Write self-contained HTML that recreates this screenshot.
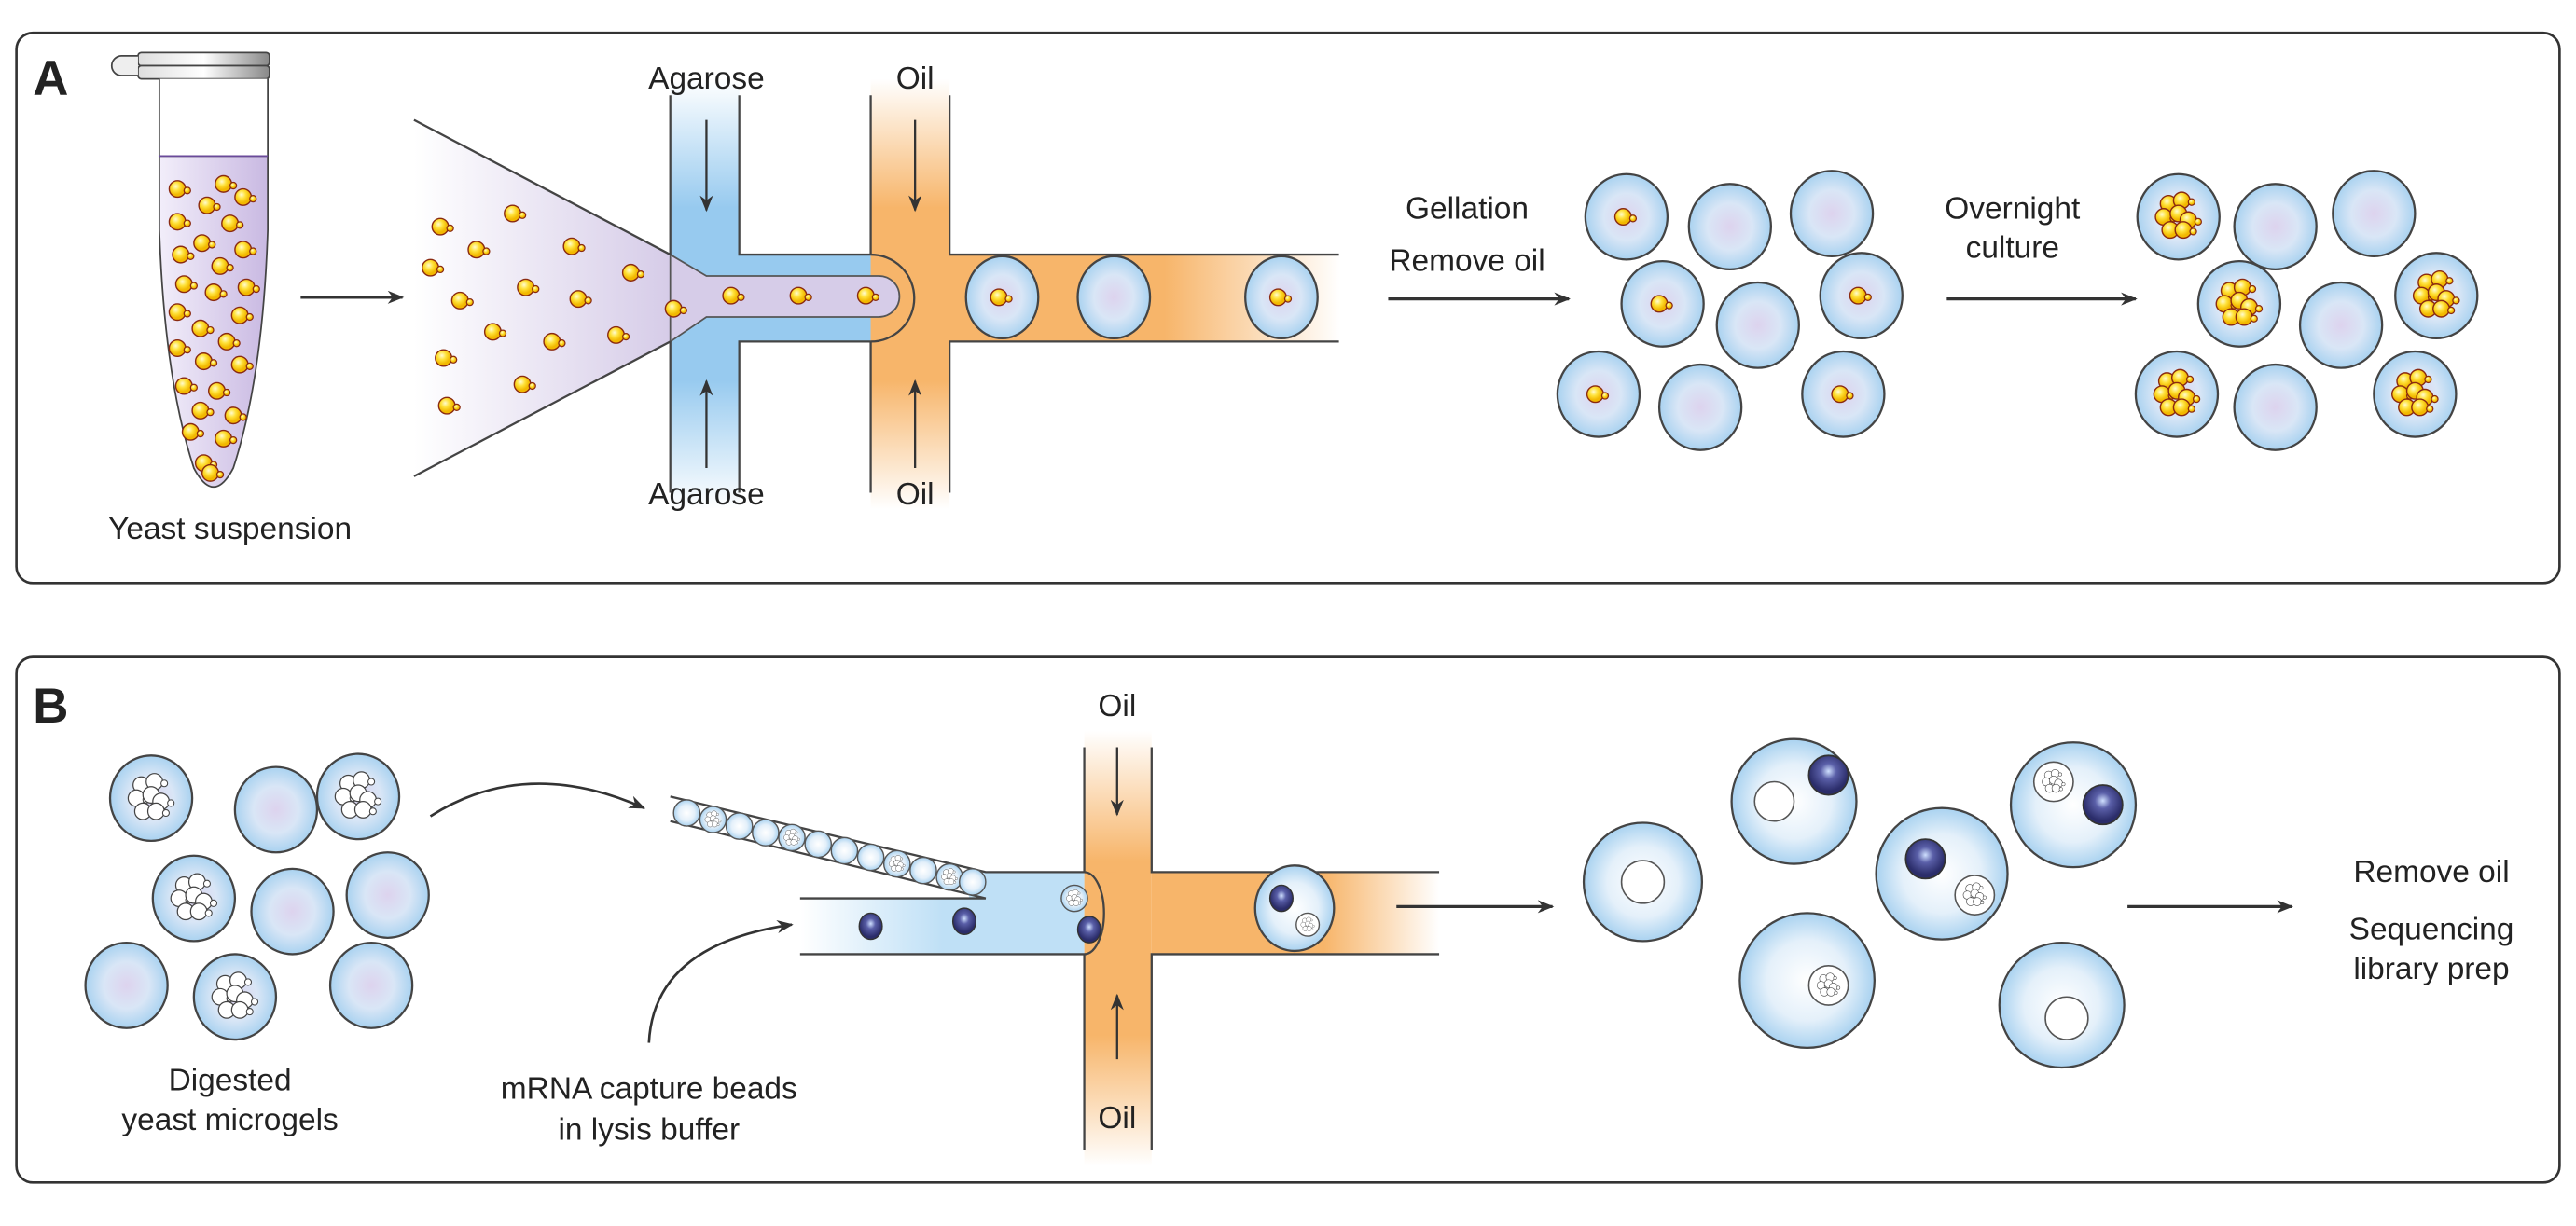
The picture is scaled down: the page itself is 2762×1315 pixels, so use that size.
<!DOCTYPE html>
<html><head><meta charset="utf-8"><style>html,body{margin:0;padding:0;background:#fff}svg{display:block}text{font-family:"Liberation Sans",sans-serif;fill:#222}</style></head><body>
<svg width="2762" height="1315" viewBox="0 0 1568 746.5" xmlns="http://www.w3.org/2000/svg">
<defs>
<radialGradient id="bead"><stop offset="0" stop-color="#ddd3ee"/><stop offset="0.55" stop-color="#d9e6f6"/><stop offset="1" stop-color="#a9d2f0"/></radialGradient>
<radialGradient id="beadW"><stop offset="0" stop-color="#fff"/><stop offset="0.6" stop-color="#e4f0fa"/><stop offset="1" stop-color="#a9d2f0"/></radialGradient>
<radialGradient id="dark" cx="0.5" cy="0.4"><stop offset="0" stop-color="#cfe0ff"/><stop offset="0.4" stop-color="#5a5fa8"/><stop offset="1" stop-color="#2b2d6a"/></radialGradient>
<radialGradient id="yel" cx="0.4" cy="0.35"><stop offset="0" stop-color="#fffbd0"/><stop offset="0.5" stop-color="#ffe23a"/><stop offset="1" stop-color="#f2b800"/></radialGradient>
<linearGradient id="blueV" x1="0" y1="0" x2="0" y2="1"><stop offset="0" stop-color="#fff"/><stop offset="0.3" stop-color="#97caef"/><stop offset="0.7" stop-color="#97caef"/><stop offset="1" stop-color="#fff"/></linearGradient>
<linearGradient id="orV" x1="0" y1="0" x2="0" y2="1"><stop offset="0" stop-color="#fff"/><stop offset="0.3" stop-color="#f7b56a"/><stop offset="0.7" stop-color="#f7b56a"/><stop offset="1" stop-color="#fff"/></linearGradient>
<linearGradient id="orH" x1="0" y1="0" x2="1" y2="0"><stop offset="0" stop-color="#f7b56a"/><stop offset="0.6" stop-color="#f7b56a"/><stop offset="1" stop-color="#fff"/></linearGradient>
<linearGradient id="purH" x1="0" y1="0" x2="1" y2="0"><stop offset="0" stop-color="#fff"/><stop offset="1" stop-color="#d6cce8"/></linearGradient>
<linearGradient id="blueH" x1="0" y1="0" x2="1" y2="0"><stop offset="0" stop-color="#fff"/><stop offset="0.5" stop-color="#bfe0f6"/><stop offset="1" stop-color="#bfe0f6"/></linearGradient>
<linearGradient id="tube" x1="0" y1="0" x2="1" y2="0"><stop offset="0" stop-color="#f2eefa"/><stop offset="1" stop-color="#c9b9e2"/></linearGradient>
<linearGradient id="cap" x1="0" y1="0" x2="1" y2="0"><stop offset="0" stop-color="#ddd"/><stop offset="0.5" stop-color="#fff"/><stop offset="1" stop-color="#888"/></linearGradient>
<g id="y"><circle cx="0" cy="0" r="5" fill="url(#yel)" stroke="#8a2a10" stroke-width="0.8"/><circle cx="6" cy="1" r="2" fill="url(#yel)" stroke="#8a2a10" stroke-width="0.7"/></g>
<g id="cl"><use href="#y" x="-6" y="-8"/><use href="#y" x="2" y="-10"/><use href="#y" x="-9" y="0"/><use href="#y" x="0" y="-2"/><use href="#y" x="6" y="2"/><use href="#y" x="-5" y="8"/><use href="#y" x="3" y="8"/></g>
<g id="wy"><circle r="5" fill="#fff" stroke="#444" stroke-width="0.7"/><circle cx="6" cy="1" r="2" fill="#fff" stroke="#444" stroke-width="0.6"/></g>
<g id="wcl"><use href="#wy" x="-6" y="-8"/><use href="#wy" x="2" y="-10"/><use href="#wy" x="-9" y="0"/><use href="#wy" x="0" y="-2"/><use href="#wy" x="6" y="2"/><use href="#wy" x="-5" y="8"/><use href="#wy" x="3" y="8"/></g>
<g id="b"><ellipse rx="25" ry="26" fill="url(#bead)" stroke="#444" stroke-width="1.3"/></g>
<marker id="ah" markerWidth="10" markerHeight="8" refX="9" refY="4" orient="auto" markerUnits="userSpaceOnUse"><path d="M0,0 L10,4 L0,8 L3,4z" fill="#333"/></marker>
</defs>
<rect x="10" y="20" width="1548" height="335" rx="10" fill="none" stroke="#333" stroke-width="1.5"/>
<text x="20" y="58" font-size="30" font-weight="bold" fill="#111">A</text>
<rect x="84" y="32" width="80" height="8" rx="2" fill="url(#cap)" stroke="#444"/>
<rect x="84" y="40" width="80" height="8" rx="2" fill="url(#cap)" stroke="#444"/>
<path d="M84,34 h-10 a5,5 0 0 0 0,12 h10" fill="#eee" stroke="#444"/>
<path d="M97,48 V95 H163 V48" fill="#fff" stroke="#444"/>
<path d="M97,95 L97,140 Q100,230 118,285 Q130,308 142,285 Q160,230 163,140 L163,95Z" fill="url(#tube)" stroke="#444"/>
<line x1="97" y1="95" x2="163" y2="95" stroke="#6a4a9a"/>
<g><use href="#y" x="108" y="115"/><use href="#y" x="136" y="112"/><use href="#y" x="126" y="125"/><use href="#y" x="148" y="120"/><use href="#y" x="108" y="135"/><use href="#y" x="140" y="136"/><use href="#y" x="123" y="148"/><use href="#y" x="110" y="155"/><use href="#y" x="148" y="152"/><use href="#y" x="134" y="162"/><use href="#y" x="112" y="173"/><use href="#y" x="130" y="178"/><use href="#y" x="150" y="175"/><use href="#y" x="108" y="190"/><use href="#y" x="146" y="192"/><use href="#y" x="122" y="200"/><use href="#y" x="138" y="208"/><use href="#y" x="108" y="212"/><use href="#y" x="124" y="220"/><use href="#y" x="146" y="222"/><use href="#y" x="112" y="235"/><use href="#y" x="132" y="238"/><use href="#y" x="122" y="250"/><use href="#y" x="142" y="253"/><use href="#y" x="116" y="263"/><use href="#y" x="136" y="267"/><use href="#y" x="124" y="282"/><use href="#y" x="128" y="288"/></g>
<text x="140" y="328" font-size="19" text-anchor="middle">Yeast suspension</text>
<line x1="183" y1="181" x2="245" y2="181" stroke="#333" stroke-width="1.8" marker-end="url(#ah)"/>
<rect x="408" y="48" width="42" height="262" fill="url(#blueV)"/>
<rect x="408" y="155" width="140" height="53" fill="#97caef"/>
<rect x="530" y="48" width="48" height="262" fill="url(#orV)"/>
<rect x="548" y="155" width="268" height="53" fill="url(#orH)"/>
<path d="M530,155 A26,26 0 0 1 530,208 H548 V155Z" fill="#f7b56a"/>
<path d="M252,73 L408,155 L408,208 L252,290Z" fill="url(#purH)"/>
<path d="M408,155 L430,168 H535 a12.5,12.5 0 0 1 0,25 H430 L408,208Z" fill="#d6cce8" stroke="#555" stroke-width="1"/>
<path d="M252,73 L408,155 M252,290 L408,208" stroke="#444" stroke-width="1.3" fill="none"/>
<path d="M408,58 V155 M450,58 V155 H530 M408,208 V300 M450,300 V208 H530 M530,58 V155 M578,58 V155 H815 M530,300 V208 M578,300 V208 H815" stroke="#444" stroke-width="1.3" fill="none"/>
<path d="M530,155 A26,26 0 0 1 530,208" stroke="#444" stroke-width="1.3" fill="none"/>
<use href="#y" x="268" y="138"/><use href="#y" x="312" y="130"/><use href="#y" x="262" y="163"/><use href="#y" x="290" y="152"/><use href="#y" x="348" y="150"/><use href="#y" x="384" y="166"/><use href="#y" x="280" y="183"/><use href="#y" x="320" y="175"/><use href="#y" x="352" y="182"/><use href="#y" x="410" y="188"/><use href="#y" x="300" y="202"/><use href="#y" x="336" y="208"/><use href="#y" x="375" y="204"/><use href="#y" x="270" y="218"/><use href="#y" x="318" y="234"/><use href="#y" x="272" y="247"/>
<use href="#y" x="445" y="180"/><use href="#y" x="486" y="180"/><use href="#y" x="527" y="180"/>
<ellipse cx="610" cy="181" rx="22" ry="25" fill="url(#bead)" stroke="#444" stroke-width="1.3"/><use href="#y" x="608" y="181"/>
<ellipse cx="678" cy="181" rx="22" ry="25" fill="url(#bead)" stroke="#444" stroke-width="1.3"/>
<ellipse cx="780" cy="181" rx="22" ry="25" fill="url(#bead)" stroke="#444" stroke-width="1.3"/><use href="#y" x="778" y="181"/>
<text x="430" y="54" font-size="19" text-anchor="middle">Agarose</text>
<text x="430" y="307" font-size="19" text-anchor="middle">Agarose</text>
<text x="557" y="54" font-size="19" text-anchor="middle">Oil</text>
<text x="557" y="307" font-size="19" text-anchor="middle">Oil</text>
<line x1="430" y1="73" x2="430" y2="128" stroke="#333" stroke-width="1.3" marker-end="url(#ah)"/>
<line x1="430" y1="285" x2="430" y2="232" stroke="#333" stroke-width="1.3" marker-end="url(#ah)"/>
<line x1="557" y1="73" x2="557" y2="128" stroke="#333" stroke-width="1.3" marker-end="url(#ah)"/>
<line x1="557" y1="285" x2="557" y2="232" stroke="#333" stroke-width="1.3" marker-end="url(#ah)"/>
<text x="893" y="133" font-size="19" text-anchor="middle">Gellation</text>
<text x="893" y="165" font-size="19" text-anchor="middle">Remove oil</text>
<line x1="845" y1="182" x2="955" y2="182" stroke="#333" stroke-width="1.8" marker-end="url(#ah)"/>
<use href="#b" x="990" y="132"/><use href="#y" x="988" y="132"/>
<use href="#b" x="1053" y="138"/><use href="#b" x="1115" y="130"/>
<use href="#b" x="1012" y="185"/><use href="#y" x="1010" y="185"/>
<use href="#b" x="1070" y="198"/>
<use href="#b" x="1133" y="180"/><use href="#y" x="1131" y="180"/>
<use href="#b" x="973" y="240"/><use href="#y" x="971" y="240"/>
<use href="#b" x="1035" y="248"/>
<use href="#b" x="1122" y="240"/><use href="#y" x="1120" y="240"/>
<text x="1225" y="133" font-size="19" text-anchor="middle">Overnight</text>
<text x="1225" y="157" font-size="19" text-anchor="middle">culture</text>
<line x1="1185" y1="182" x2="1300" y2="182" stroke="#333" stroke-width="1.8" marker-end="url(#ah)"/>
<use href="#b" x="1326" y="132"/><use href="#cl" x="1326" y="132"/>
<use href="#b" x="1385" y="138"/><use href="#b" x="1445" y="130"/>
<use href="#b" x="1363" y="185"/><use href="#cl" x="1363" y="185"/>
<use href="#b" x="1425" y="198"/>
<use href="#b" x="1483" y="180"/><use href="#cl" x="1483" y="180"/>
<use href="#b" x="1325" y="240"/><use href="#cl" x="1325" y="240"/>
<use href="#b" x="1385" y="248"/>
<use href="#b" x="1470" y="240"/><use href="#cl" x="1470" y="240"/>
<rect x="10" y="400" width="1548" height="320" rx="10" fill="none" stroke="#333" stroke-width="1.5"/>
<text x="20" y="440" font-size="30" font-weight="bold" fill="#111">B</text>
<use href="#b" x="92" y="486"/><use href="#wcl" x="92" y="486"/>
<use href="#b" x="168" y="493"/>
<use href="#b" x="218" y="485"/><use href="#wcl" x="218" y="485"/>
<use href="#b" x="118" y="547"/><use href="#wcl" x="118" y="547"/>
<use href="#b" x="178" y="555"/>
<use href="#b" x="236" y="545"/>
<use href="#b" x="77" y="600"/>
<use href="#b" x="143" y="607"/><use href="#wcl" x="143" y="607"/>
<use href="#b" x="226" y="600"/>
<text x="140" y="664" font-size="19" text-anchor="middle">Digested</text>
<text x="140" y="688" font-size="19" text-anchor="middle">yeast microgels</text>
<text x="395" y="669" font-size="19" text-anchor="middle">mRNA capture beads</text>
<text x="395" y="694" font-size="19" text-anchor="middle">in lysis buffer</text>
<path d="M262,497 Q320,460 392,492" stroke="#333" stroke-width="1.5" fill="none" marker-end="url(#ah)"/>
<path d="M395,635 Q398,575 482,563" stroke="#333" stroke-width="1.5" fill="none" marker-end="url(#ah)"/>
<rect x="660" y="445" width="41" height="265" fill="url(#orV)"/>
<rect x="701" y="531" width="175" height="50" fill="url(#orH)"/>
<path d="M487,547 H590 L588,531 H660 V581 H487Z" fill="url(#blueH)"/>
<path d="M660,531 a12,25 0 0 1 0,50 h20 v-50z" fill="#f7b56a"/>
<path d="M408,485 L600,531 H660 a12,25 0 0 1 0,50 H487 M487,547 H600 L408,500" stroke="#444" stroke-width="1.3" fill="none"/>
<path d="M660,455 V531 M701,455 V531 H876 M660,700 V581 M701,700 V581 H876" stroke="#444" stroke-width="1.3" fill="none"/>
<g fill="url(#beadW)" stroke="#555" stroke-width="0.8">
<circle cx="418" cy="495" r="8"/><circle cx="434" cy="499" r="8"/><circle cx="450" cy="503" r="8"/><circle cx="466" cy="507" r="8"/><circle cx="482" cy="510" r="8"/><circle cx="498" cy="514" r="8"/><circle cx="514" cy="518" r="8"/><circle cx="530" cy="522" r="8"/><circle cx="546" cy="526" r="8"/><circle cx="562" cy="530" r="8"/><circle cx="578" cy="534" r="8"/><circle cx="592" cy="537" r="8"/>
<circle cx="654" cy="547" r="8"/>
</g>
<g transform="translate(434,499) scale(0.35)"><use href="#wcl"/></g>
<g transform="translate(482,510) scale(0.35)"><use href="#wcl"/></g>
<g transform="translate(546,526) scale(0.35)"><use href="#wcl"/></g>
<g transform="translate(578,534) scale(0.35)"><use href="#wcl"/></g>
<g transform="translate(654,547) scale(0.35)"><use href="#wcl"/></g>
<ellipse cx="530" cy="564" rx="7" ry="8" fill="url(#dark)" stroke="#333" stroke-width="0.8"/>
<ellipse cx="587" cy="561" rx="7" ry="8" fill="url(#dark)" stroke="#333" stroke-width="0.8"/>
<ellipse cx="663" cy="566" rx="7" ry="8" fill="url(#dark)" stroke="#333" stroke-width="0.8"/>
<ellipse cx="788" cy="553" rx="24" ry="26" fill="url(#beadW)" stroke="#444" stroke-width="1.3"/>
<ellipse cx="780" cy="547" rx="7" ry="8" fill="url(#dark)" stroke="#333" stroke-width="0.8"/>
<circle cx="796" cy="563" r="7" fill="#fff" stroke="#555" stroke-width="0.8"/>
<g transform="translate(796,563) scale(0.3)"><use href="#wcl"/></g>
<text x="680" y="436" font-size="19" text-anchor="middle">Oil</text>
<text x="680" y="687" font-size="19" text-anchor="middle">Oil</text>
<line x1="680" y1="455" x2="680" y2="496" stroke="#333" stroke-width="1.3" marker-end="url(#ah)"/>
<line x1="680" y1="645" x2="680" y2="606" stroke="#333" stroke-width="1.3" marker-end="url(#ah)"/>
<line x1="850" y1="552" x2="945" y2="552" stroke="#333" stroke-width="1.8" marker-end="url(#ah)"/>
<g stroke="#444" stroke-width="1.3" fill="url(#beadW)">
<circle cx="1000" cy="537" r="36"/><circle cx="1092" cy="488" r="38"/><circle cx="1262" cy="490" r="38"/><circle cx="1182" cy="532" r="40"/><circle cx="1100" cy="597" r="41"/><circle cx="1255" cy="612" r="38"/>
</g>
<g fill="#fff" stroke="#555" stroke-width="0.9">
<circle cx="1000" cy="537" r="13"/><circle cx="1080" cy="488" r="12"/><circle cx="1202" cy="545" r="12"/><circle cx="1113" cy="600" r="12"/><circle cx="1250" cy="476" r="12"/><circle cx="1258" cy="620" r="13"/>
</g>
<g transform="translate(1202,545) scale(0.5)"><use href="#wcl"/></g>
<g transform="translate(1113,600) scale(0.5)"><use href="#wcl"/></g>
<g transform="translate(1250,476) scale(0.5)"><use href="#wcl"/></g>
<circle cx="1113" cy="472" r="12" fill="url(#dark)" stroke="#333"/>
<circle cx="1172" cy="523" r="12" fill="url(#dark)" stroke="#333"/>
<circle cx="1280" cy="490" r="12" fill="url(#dark)" stroke="#333"/>
<line x1="1295" y1="552" x2="1395" y2="552" stroke="#333" stroke-width="1.8" marker-end="url(#ah)"/>
<text x="1480" y="537" font-size="19" text-anchor="middle">Remove oil</text>
<text x="1480" y="572" font-size="19" text-anchor="middle">Sequencing</text>
<text x="1480" y="596" font-size="19" text-anchor="middle">library prep</text>
</svg>
</body></html>
